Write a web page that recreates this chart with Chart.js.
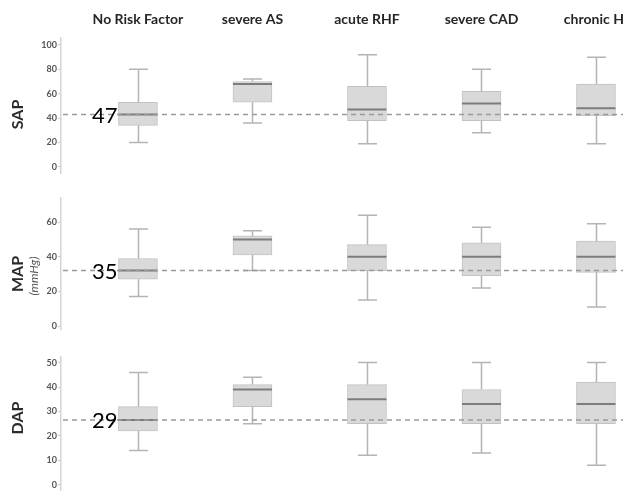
<!DOCTYPE html>
<html>
<head>
<meta charset="utf-8">
<script src="https://cdn.jsdelivr.net/npm/chart.js@4.4.1/dist/chart.umd.min.js"></script>
<style>
  html, body { margin: 0; padding: 0; background: #fff; }
  #wrap { position: relative; width: 623px; height: 491px; overflow: hidden; }
  canvas { position: absolute; left: 0; }
</style>
</head>
<body>
<div id="wrap">
  <canvas id="sap" width="623" height="180" style="top:0"></canvas>
  <canvas id="map" width="623" height="150" style="top:180px"></canvas>
  <canvas id="dap" width="623" height="161" style="top:330px"></canvas>
</div>
<script>
// Patient groups
const categories = ['No Risk Factor', 'severe AS', 'acute RHF', 'severe CAD', 'chronic HI'];

// Systolic arterial pressure: lower whisker, Q1, median, Q3, upper whisker
const sapLow    = [20, 36, 19, 28, 19];
const sapQ1     = [34, 53, 38, 38, 42];
const sapMedian = [43, 68, 47, 52, 48];
const sapQ3     = [53, 70, 66, 62, 68];
const sapHigh   = [80, 72, 92, 80, 90];
const sapRef = 43;
const sapRefLabel = '47';
const sapTicks = [0, 20, 40, 60, 80, 100];

// Mean arterial pressure
const mapLow    = [17, 32, 15, 22, 11];
const mapQ1     = [27, 41, 32, 29, 31];
const mapMedian = [32, 50, 40, 40, 40];
const mapQ3     = [39, 52, 47, 48, 49];
const mapHigh   = [56, 55, 64, 57, 59];
const mapRef = 32;
const mapRefLabel = '35';
const mapTicks = [0, 20, 40, 60];

// Diastolic arterial pressure
const dapLow    = [14, 25, 12, 13, 8];
const dapQ1     = [22, 32, 25, 25, 25];
const dapMedian = [26.5, 39, 35, 33, 33];
const dapQ3     = [32, 41, 41, 39, 42];
const dapHigh   = [46, 44, 50, 50, 50];
const dapRef = 26.5;
const dapRefLabel = '29';
const dapTicks = [0, 10, 20, 30, 40, 50];

const FONT = 'Lato, "Open Sans", sans-serif';

// Whiskers, medians, reference line, axis title and group headers
const boxPlotPlugin = {
  id: 'boxPlot',
  afterDatasetsDraw(chart, args, o) {
    const ctx = chart.ctx;
    const x = chart.scales.x, y = chart.scales.y;
    const area = chart.chartArea;
    const half = 19.5, cap = 9.5;
    ctx.save();
    // whiskers
    ctx.strokeStyle = '#b4b4b4';
    ctx.lineWidth = 1.5;
    categories.forEach((c, i) => {
      const cx = Math.round(x.getPixelForValue(i)) + 0.5;
      const pLow = y.getPixelForValue(o.low[i]);
      const pQ1 = y.getPixelForValue(o.q1[i]);
      const pQ3 = y.getPixelForValue(o.q3[i]);
      const pHigh = y.getPixelForValue(o.high[i]);
      ctx.beginPath();
      ctx.moveTo(cx, pQ1); ctx.lineTo(cx, pLow);
      ctx.moveTo(cx - cap, pLow); ctx.lineTo(cx + cap, pLow);
      ctx.moveTo(cx, pQ3); ctx.lineTo(cx, pHigh);
      ctx.moveTo(cx - cap, pHigh); ctx.lineTo(cx + cap, pHigh);
      ctx.stroke();
    });
    // medians
    ctx.strokeStyle = '#7c7c7c';
    ctx.lineWidth = 2;
    categories.forEach((c, i) => {
      const cx = x.getPixelForValue(i);
      const pm = y.getPixelForValue(o.median[i]);
      ctx.beginPath();
      ctx.moveTo(cx - half, pm); ctx.lineTo(cx + half, pm);
      ctx.stroke();
    });
    // reference line with its label
    const py = y.getPixelForValue(o.ref);
    ctx.strokeStyle = '#9a9a9a';
    ctx.lineWidth = 1.5;
    ctx.setLineDash([5, 4]);
    ctx.beginPath();
    ctx.moveTo(area.left + 2, py); ctx.lineTo(area.right, py);
    ctx.stroke();
    ctx.setLineDash([]);
    ctx.font = '22px ' + FONT;
    ctx.textAlign = 'right';
    ctx.textBaseline = 'middle';
    ctx.fillStyle = '#000';
    ctx.fillText(o.refLabel, x.getPixelForValue(0) - half - 1, py + 1);
    // axis title
    const midY = (y.top + y.bottom) / 2 + o.titleShift;
    ctx.translate(18, midY);
    ctx.rotate(-Math.PI / 2);
    ctx.textAlign = 'center';
    ctx.fillStyle = '#2b2b2b';
    ctx.font = 'bold 16px ' + FONT;
    ctx.fillText(o.title, 0, 0);
    if (o.unit) {
      ctx.font = 'italic 12px ' + FONT;
      ctx.fillStyle = '#555';
      ctx.fillText(o.unit, -2, 16);
    }
    ctx.restore();
    // group headers
    if (o.headers) {
      ctx.save();
      ctx.font = 'bold 14px ' + FONT;
      ctx.fillStyle = '#262626';
      ctx.textAlign = 'center';
      ctx.textBaseline = 'middle';
      categories.forEach((c, i) => ctx.fillText(c, x.getPixelForValue(i), 19));
      ctx.restore();
    }
  }
};

function makePanel(id, cfg) {
  return new Chart(document.getElementById(id), {
    type: 'bar',
    data: {
      datasets: [{
        data: categories.map((c, i) => ({ x: i, y: [cfg.q1[i], cfg.q3[i]] })),
        backgroundColor: '#d9d9d9',
        borderColor: '#c2c2c2',
        borderWidth: 1,
        borderSkipped: false,
        barThickness: 39
      }]
    },
    options: {
      responsive: false,
      animation: false,
      devicePixelRatio: 1,
      layout: { padding: cfg.padding },
      plugins: {
        legend: { display: false },
        tooltip: { enabled: false },
        boxPlot: cfg
      },
      scales: {
        x: {
          type: 'linear',
          display: false,
          offset: false,
          min: -0.672,
          max: 4.236
        },
        y: {
          min: cfg.min,
          max: cfg.max,
          afterBuildTicks: s => { s.ticks = cfg.ticks.map(v => ({ value: v })); },
          afterFit: s => { s.width = 61; s.paddingTop = 0; s.paddingBottom = 0; },
          border: { display: true, color: '#d4d4d4', width: 1.5 },
          grid: { drawOnChartArea: false, drawTicks: true, tickLength: 3, color: '#c8c8c8' },
          ticks: {
            padding: 1,
            color: '#555',
            font: { family: FONT, size: 9, weight: 'bold' }
          }
        }
      }
    },
    plugins: [boxPlotPlugin]
  });
}

makePanel('sap', {
  low: sapLow, q1: sapQ1, median: sapMedian, q3: sapQ3, high: sapHigh,
  ref: sapRef, refLabel: sapRefLabel, ticks: sapTicks,
  min: -5, max: 105.7, title: 'SAP', titleShift: 9, headers: true,
  padding: { top: 38, bottom: 7, left: 0, right: 0 }
});

makePanel('map', {
  low: mapLow, q1: mapQ1, median: mapMedian, q3: mapQ3, high: mapHigh,
  ref: mapRef, refLabel: mapRefLabel, ticks: mapTicks,
  min: -2.3, max: 73.9, title: 'MAP', unit: '(mmHg)', titleShift: 10,
  padding: { top: 18, bottom: 0, left: 0, right: 0 }
});

makePanel('dap', {
  low: dapLow, q1: dapQ1, median: dapMedian, q3: dapQ3, high: dapHigh,
  ref: dapRef, refLabel: dapRefLabel, ticks: dapTicks,
  min: -2.6, max: 52.3, title: 'DAP', titleShift: -6,
  padding: { top: 27, bottom: 0, left: 0, right: 0 }
});
</script>
</body>
</html>
